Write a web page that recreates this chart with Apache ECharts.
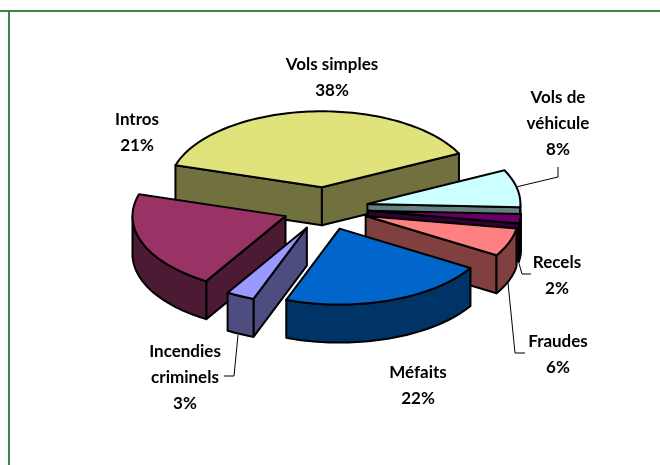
<!DOCTYPE html>
<html><head><meta charset="utf-8">
<style>html,body{margin:0;padding:0;background:#fff}#c{width:660px;height:465px}</style>
<script src="https://cdn.jsdelivr.net/npm/echarts@6/dist/echarts.min.js"></script>
</head><body><div id="c"></div>
<script>
const categories = ['Vols simples','Vols de\nvéhicule','Recels','Fraudes','Méfaits','Incendies\ncriminels','Intros'];
const values = [38,8,2,6,22,3,21];
const topColors = ['#E0E27C','#CCFFFF','#660066','#FF8080','#0066CC','#9999FF','#993366'];
const wallColors = ['#70713E','#668080','#330033','#804040','#003366','#4D4D80','#4D1A33'];
const paintOrder = [0,1,2,3,6,5,4];
const labelAnchors = [[332,78],[558,124],[557,276],[558,355],[418,386],[185,378],[137,133]];
const leaders = [
  null,
  [[516,187],[558,177],[558,167]],
  [[518,260],[522,274],[531,274]],
  [[508,283],[515,353],[525,353]],
  null,
  [[238,335],[234,376],[224,376]],
  null
];
const START = -73.2, EXPLODE = 0.28, DEPTH = 0.5;
const total = values.reduce((a,b)=>a+b,0);
const rad = d => d*Math.PI/180;
function sliceAngles(i){
  let a = START;
  for(let k=0;k<i;k++) a += values[k]/total*360;
  return [a, a+values[i]/total*360];
}
function renderItem(params, api){
  const i = api.value(0);
  const [a,b] = sliceAngles(i);
  const mid = rad((a+b)/2);
  const ox = Math.sin(mid)*EXPLODE, oy = Math.cos(mid)*EXPLODE;
  const P = (deg, r, drop) => api.coord([ox + r*Math.sin(rad(deg)), oy + r*Math.cos(rad(deg)) - (drop?DEPTH:0)]);
  const arc = (from,to,drop) => { const pts=[]; const n=Math.max(2,Math.ceil((to-from)/1.5));
    for(let k=0;k<=n;k++) pts.push(P(from+(to-from)*k/n,1,drop)); return pts; };
  const style = fill => ({fill, stroke:'#000', lineWidth:2, lineJoin:'round'});
  const poly = (pts,fill) => ({type:'polygon', shape:{points:pts}, style:style(fill)});
  const children = [];
  const sa = Math.sin(rad(a)), sb = Math.sin(rad(b));
  if(sa<0) children.push(poly([P(a,0,false),P(a,1,false),P(a,1,true),P(a,0,true)],wallColors[i]));
  if(sb>0) children.push(poly([P(b,0,false),P(b,1,false),P(b,1,true),P(b,0,true)],wallColors[i]));
  const f = Math.max(a,90), t = Math.min(b,270);
  if(t>f) children.push(poly(arc(f,t,false).concat(arc(f,t,true).reverse()),wallColors[i]));
  children.push(poly([P(a,0,false)].concat(arc(a,b,false)),topColors[i]));
  return {type:'group',children};
}
const chart = echarts.init(document.getElementById('c'),null,{renderer:'canvas'});
const graphics = [
  {type:'rect',shape:{x:0,y:10,width:660,height:2},style:{fill:'#3B8642'},silent:true},
  {type:'rect',shape:{x:8,y:10,width:2,height:455},style:{fill:'#3B8642'},silent:true}
];
categories.forEach((c,i)=>{
  graphics.push({type:'text',x:labelAnchors[i][0],y:labelAnchors[i][1],
    style:{text:c+'\n'+values[i]+'%',font:'bold 17px Lato',fill:'#000',align:'center',verticalAlign:'middle',lineHeight:26}});
  if(leaders[i]) graphics.push({type:'polyline',shape:{points:leaders[i]},style:{fill:'none',stroke:'#000',lineWidth:1}});
});
chart.setOption({
  animation:false,
  backgroundColor:'#fff',
  grid:{left:172.5,top:132.5,width:306,height:152},
  xAxis:{type:'value',min:-1,max:1,show:false},
  yAxis:{type:'value',min:-1,max:1,show:false},
  graphic:graphics,
  series:[{type:'custom',coordinateSystem:'cartesian2d',renderItem,clip:false,silent:true,
    encode:{x:1,y:2},
    data:paintOrder.map(i=>[i,0,0])}]
});
</script></body></html>
